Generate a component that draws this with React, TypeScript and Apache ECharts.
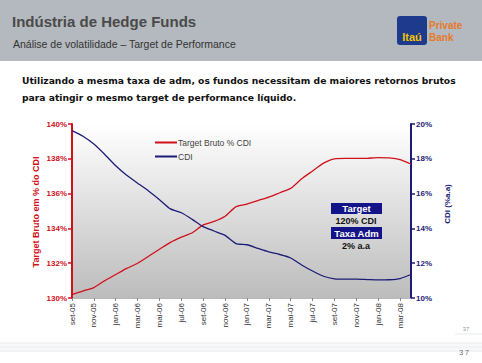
import React, { useEffect, useRef } from "react";
import * as echarts from "echarts";

const categories = [
  "set-05","out-05","nov-05","dez-05","jan-06","fev-06","mar-06","abr-06","mai-06","jun-06","jul-06","ago-06",
  "set-06","out-06","nov-06","dez-06","jan-07","fev-07","mar-07","abr-07","mai-07","jun-07","jul-07","ago-07",
  "set-07","out-07","nov-07","dez-07","jan-08","fev-08","mar-08","abr-08",
];

const targetBruto = [
  130.2, 130.4, 130.6, 131.0, 131.35, 131.7, 132.0, 132.4, 132.8, 133.2, 133.5, 133.75,
  134.2, 134.4, 134.7, 135.25, 135.4, 135.6, 135.8, 136.05, 136.3, 136.85, 137.3, 137.75,
  138.0, 138.02, 138.02, 138.03, 138.07, 138.05, 137.95, 137.7,
];

const cdi = [
  19.62, 19.3, 18.85, 18.25, 17.6, 17.05, 16.6, 16.15, 15.65, 15.12, 14.9, 14.52,
  14.1, 13.85, 13.6, 13.13, 13.06, 12.85, 12.65, 12.5, 12.3, 11.9, 11.55, 11.25,
  11.1, 11.08, 11.08, 11.06, 11.04, 11.05, 11.12, 11.35,
];

const RED = "#d0101a";
const NAVY = "#1c1c78";

export default function App() {
  const ref = useRef<HTMLDivElement>(null);
  useEffect(() => {
    const chart = echarts.init(ref.current!, null, { renderer: "svg" });
    const bottomLines = [343, 345, 347, 349, 351].map((y, i) => ({
      type: "line",
      shape: { x1: 0, y1: y, x2: 482, y2: y },
      style: { stroke: i % 2 === 0 ? "#e2e6ea" : "#eef1f3", lineWidth: 1 },
      silent: true,
    }));
    chart.setOption({
      animation: false,
      backgroundColor: "#ffffff",
      grid: {
        left: 72,
        right: 71,
        top: 124,
        bottom: 65,
        show: true,
        borderWidth: 0,
        backgroundColor: new echarts.graphic.LinearGradient(0, 0, 0, 1, [
          { offset: 0, color: "#ffffff" },
          { offset: 1, color: "#bcbcbc" },
        ]),
      },
      legend: {
        orient: "vertical",
        left: 150,
        top: 133,
        itemGap: 5,
        itemWidth: 22,
        itemHeight: 2,
        icon: "rect",
        textStyle: { fontSize: 8.5, color: "#444", fontFamily: "Liberation Sans", padding: [0, 0, 0, -4] },
        data: ["Target Bruto % CDI", "CDI"],
      },
      xAxis: {
        type: "category",
        data: categories,
        boundaryGap: false,
        axisLine: { show: true, lineStyle: { color: "#b8b8b8", width: 1 } },
        axisTick: { show: true, interval: 1, length: 3, lineStyle: { color: "#888" } },
        axisLabel: {
          interval: 1,
          rotate: 90,
          margin: 5,
          fontSize: 8,
          color: "#333",
          fontFamily: "Liberation Sans",
        },
      },
      yAxis: [
        {
          type: "value",
          min: 130,
          max: 140,
          interval: 2,
          position: "left",
          splitLine: { show: false },
          axisLine: { show: true, lineStyle: { color: RED, width: 2 } },
          axisTick: { show: true, length: 4, lineStyle: { color: RED, width: 1.5 } },
          axisLabel: {
            formatter: "{value}%",
            color: RED,
            fontSize: 8,
            fontWeight: "bold",
            margin: 5,
            fontFamily: "Liberation Sans",
          },
        },
        {
          type: "value",
          min: 10,
          max: 20,
          interval: 2,
          position: "right",
          splitLine: { show: false },
          axisLine: { show: true, lineStyle: { color: NAVY, width: 2 } },
          axisTick: { show: true, length: 4, lineStyle: { color: NAVY, width: 1.5 } },
          axisLabel: {
            formatter: "{value}%",
            color: NAVY,
            fontSize: 8,
            fontWeight: "bold",
            margin: 5,
            fontFamily: "Liberation Sans",
          },
        },
      ],
      series: [
        {
          name: "Target Bruto % CDI",
          type: "line",
          data: targetBruto,
          yAxisIndex: 0,
          showSymbol: false,
          smooth: 0.2,
          color: RED,
          lineStyle: { color: RED, width: 1.3 },
        },
        {
          name: "CDI",
          type: "line",
          data: cdi,
          yAxisIndex: 1,
          showSymbol: false,
          smooth: 0.2,
          color: NAVY,
          lineStyle: { color: NAVY, width: 1.3 },
        },
      ],
      graphic: [
        { type: "rect", shape: { x: 0, y: 0, width: 482, height: 61 }, style: { fill: "#b3b9be" }, silent: true },
        {
          type: "text", x: 12, y: 21,
          style: { text: "Indústria de Hedge Funds", fontSize: 15, fontWeight: "bold", fill: "#4a4a4a", fontFamily: "Liberation Sans", textVerticalAlign: "middle" },
        },
        {
          type: "text", x: 13, y: 44,
          style: { text: "Análise de volatilidade – Target de Performance", fontSize: 10.5, fill: "#333", fontFamily: "Liberation Sans", textVerticalAlign: "middle" },
        },
        { type: "rect", shape: { x: 397, y: 16, width: 30, height: 29, r: 3 }, style: { fill: "#1e3a8c" } },
        {
          type: "text", x: 412, y: 37,
          style: { text: "Itaú", fontSize: 11, fontWeight: "bold", fill: "#f2c400", fontFamily: "Liberation Sans", textAlign: "center", textVerticalAlign: "middle" },
        },
        {
          type: "text", x: 429, y: 25,
          style: { text: "Private", fontSize: 10, fontWeight: "bold", fill: "#e8782a", fontFamily: "Liberation Sans Narrow, Liberation Sans", textVerticalAlign: "middle" },
        },
        {
          type: "text", x: 429, y: 37,
          style: { text: "Bank", fontSize: 10, fontWeight: "bold", fill: "#e8782a", fontFamily: "Liberation Sans Narrow, Liberation Sans", textVerticalAlign: "middle" },
        },
        {
          type: "text", x: 22, y: 80,
          style: { text: "Utilizando a mesma taxa de adm, os fundos necessitam de maiores retornos brutos", fontSize: 9.2, fontWeight: "bold", fill: "#111", fontFamily: "DejaVu Sans", textVerticalAlign: "middle" },
        },
        {
          type: "text", x: 22, y: 97,
          style: { text: "para atingir o mesmo target de performance líquido.", fontSize: 9.2, fontWeight: "bold", fill: "#111", fontFamily: "DejaVu Sans", textVerticalAlign: "middle" },
        },
        {
          type: "text", x: 36, y: 212, rotation: Math.PI / 2,
          style: { text: "Target Bruto em % do CDI", fontSize: 9, fontWeight: "bold", fill: RED, fontFamily: "Liberation Sans", textAlign: "center", textVerticalAlign: "middle" },
        },
        {
          type: "text", x: 447, y: 204, rotation: Math.PI / 2,
          style: { text: "CDI (%a.a)", fontSize: 8, fontWeight: "bold", fill: NAVY, fontFamily: "Liberation Sans", textAlign: "center", textVerticalAlign: "middle" },
        },
        { type: "rect", shape: { x: 331, y: 203, width: 51, height: 11 }, style: { fill: "#14148a" } },
        {
          type: "text", x: 356.5, y: 208.5,
          style: { text: "Target", fontSize: 9.5, fontWeight: "bold", fill: "#fff", fontFamily: "Liberation Sans", textAlign: "center", textVerticalAlign: "middle" },
        },
        {
          type: "text", x: 356, y: 221,
          style: { text: "120% CDI", fontSize: 9, fontWeight: "bold", fill: "#111", fontFamily: "Liberation Sans", textAlign: "center", textVerticalAlign: "middle" },
        },
        { type: "rect", shape: { x: 331, y: 227, width: 51, height: 12 }, style: { fill: "#14148a" } },
        {
          type: "text", x: 356.5, y: 233,
          style: { text: "Taxa Adm", fontSize: 9.5, fontWeight: "bold", fill: "#fff", fontFamily: "Liberation Sans", textAlign: "center", textVerticalAlign: "middle" },
        },
        {
          type: "text", x: 356, y: 246,
          style: { text: "2% a.a", fontSize: 9, fontWeight: "bold", fill: "#111", fontFamily: "Liberation Sans", textAlign: "center", textVerticalAlign: "middle" },
        },
        ...bottomLines,
        { type: "line", shape: { x1: 455, y1: 334, x2: 482, y2: 334 }, style: { stroke: "#e6e9ec", lineWidth: 1 } },
        {
          type: "text", x: 466, y: 329,
          style: { text: "37", fontSize: 6, fill: "#999", fontFamily: "Liberation Sans", textAlign: "center", textVerticalAlign: "middle" },
        },
        {
          type: "text", x: 464, y: 352,
          style: { text: "3 7", fontSize: 7, fill: "#666", fontFamily: "Liberation Sans", textAlign: "center", textVerticalAlign: "middle" },
        },
      ],
    });
    return () => chart.dispose();
  }, []);
  return (
    <div
      ref={ref}
      style={{ position: "fixed", left: 0, top: 0, width: 482, height: 363 }}
    />
  );
}
